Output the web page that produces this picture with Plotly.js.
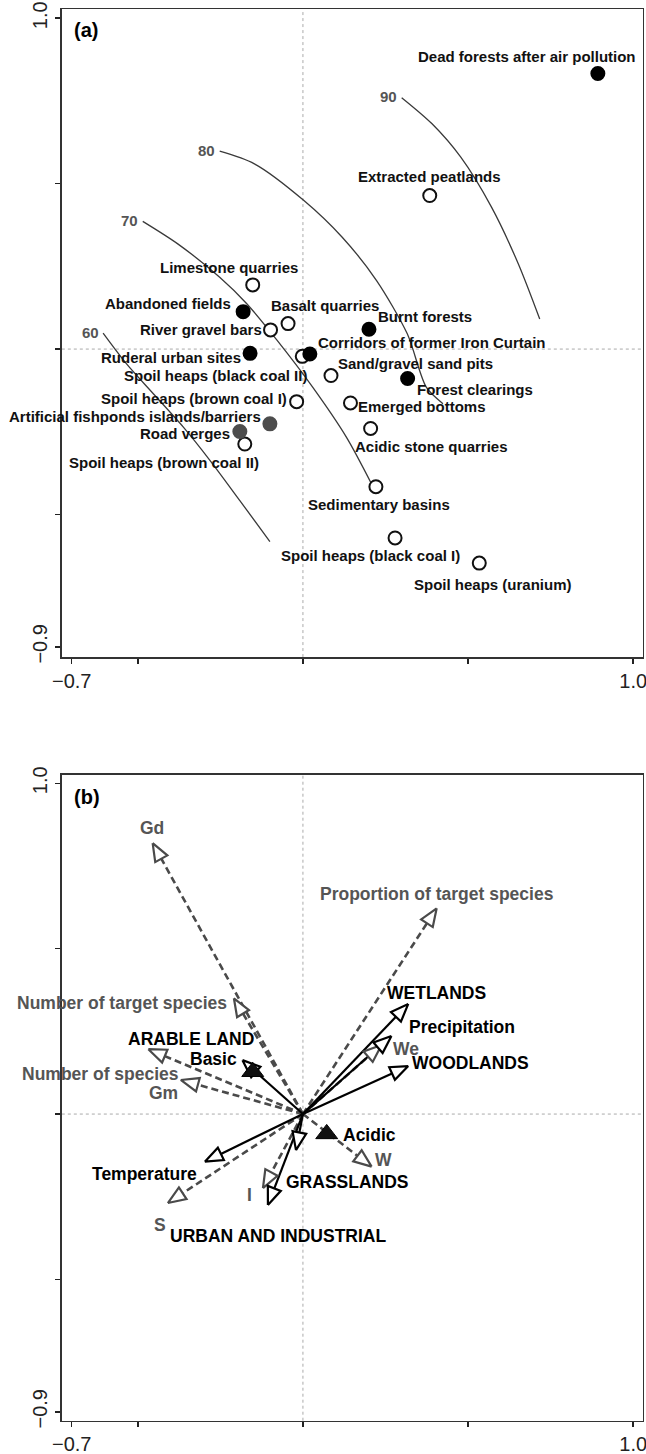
<!DOCTYPE html>
<html><head><meta charset="utf-8">
<script src="https://cdn.plot.ly/plotly-3.0.1.min.js"></script>
<style>html,body{margin:0;padding:0;background:#fff}</style>
</head><body><div id="chart" style="width:646px;height:1454px"></div>
<script>
// ---------- Panel (a): sites ----------
const siteNames = ['Dead forests after air pollution','Extracted peatlands','Limestone quarries','Abandoned fields',
 'Basalt quarries','River gravel bars','Ruderal urban sites','Spoil heaps (black coal II)','Corridors of former Iron Curtain',
 'Burnt forests','Sand/gravel sand pits','Forest clearings','Spoil heaps (brown coal I)','Emerged bottoms',
 'Acidic stone quarries','Artificial fishponds islands/barriers','Road verges','Spoil heaps (brown coal II)',
 'Sedimentary basins','Spoil heaps (black coal I)','Spoil heaps (uranium)'];
const siteX = [0.893,0.384,-0.152,-0.181,-0.045,-0.098,-0.160,-0.002,0.021,0.200,0.085,0.317,-0.019,0.144,0.205,-0.100,-0.191,-0.176,0.221,0.279,0.534];
const siteY = [0.833,0.464,0.194,0.113,0.077,0.058,-0.013,-0.022,-0.015,0.060,-0.080,-0.089,-0.159,-0.163,-0.240,-0.226,-0.249,-0.287,-0.416,-0.571,-0.647];
const siteType = ['filled','open','open','filled','open','open','filled','open','filled','filled','open','filled','open','open','open','grey','grey','open','open','open','open'];

// isolines (contour values and points)
const isoLevels = ['60','70','80','90'];
const iso60X = [-0.605,-0.534,-0.453,-0.362,-0.281,-0.191,-0.100];
const iso60Y = [0.048,-0.045,-0.135,-0.236,-0.337,-0.458,-0.582];
const iso70X = [-0.485,-0.379,-0.252,-0.170,-0.078,0.030,0.132,0.209];
const iso70Y = [0.386,0.318,0.217,0.137,0.026,-0.116,-0.267,-0.410];
const iso80X = [-0.252,-0.147,0.003,0.119,0.223,0.316,0.374,0.424];
const iso80Y = [0.598,0.560,0.449,0.338,0.207,0.046,-0.116,-0.165];
const iso90X = [0.299,0.391,0.478,0.571,0.652,0.717];
const iso90Y = [0.760,0.681,0.580,0.429,0.258,0.091];

// ---------- Panel (b): variables ----------
const speciesNames = ['Gd','Proportion of target species','Number of target species','Number of species','Gm','S','I','W','We'];
const speciesX = [-0.455,0.405,-0.209,-0.468,-0.370,-0.409,-0.121,0.208,0.238];
const speciesY = [0.819,0.622,0.350,0.196,0.103,-0.269,-0.224,-0.159,0.209];
const envNames = ['WETLANDS','Precipitation','WOODLANDS','ARABLE LAND','Temperature','URBAN AND INDUSTRIAL','GRASSLANDS'];
const envX = [0.319,0.268,0.319,-0.183,-0.297,-0.106,-0.021];
const envY = [0.333,0.236,0.145,0.163,-0.144,-0.275,-0.109];
const centroidNames = ['Basic','Acidic'];
const centroidX = [-0.152,0.072];
const centroidY = [0.128,-0.060];

const xTickVals = [-0.7,-0.5,0,0.5,1.0];
const xTickText = ['\u22120.7','','','','1.0'];
const yTickVals = [1.0,0.5,0,-0.5,-0.9];
const yTickText = ['1.0','','','','\u22120.9'];

// ---------- label offsets (pixels: right, down) ----------
const siteLabelDx = [-71,0,-24,-75,37,-70,-79,-87,122,56,85,67,-103,72,61,-135,-55,-81,3,-25,14];
const siteLabelDy = [-17,-19,-17,-8,-18,0,4,19,-12,-13,-12,11,-3,4,18,-7,2,18,18,18,21];
const speciesLabelDx = [-1,0,-112,-48,-17,-8,-13,12,24];
const speciesLabelDy = [-15,-14,5,25,13,22,7,-7,4];
const envLabelDx = [28,71,62,-51,-60,10,52];
const envLabelDy = [-11,-9,-3,-21,12,31,32];
const centroidLabelDx = [-39,43];
const centroidLabelDy = [-13,1];

const FONT = 'Arial, "Liberation Sans", sans-serif';
const GREY = '#4a4a4a';
const traces = [];
const annotations = [];

// isolines
const isoX = [iso60X, iso70X, iso80X, iso90X];
const isoY = [iso60Y, iso70Y, iso80Y, iso90Y];
isoLevels.forEach((lv, i) => {
  traces.push({type:'scatter', mode:'lines', x: isoX[i], y: isoY[i], xaxis:'x', yaxis:'y',
    line:{color:'#3a3a3a', width:1.3, shape:'spline', smoothing:0.8}, hoverinfo:'skip', showlegend:false});
  annotations.push({xref:'x', yref:'y', x: isoX[i][0], y: isoY[i][0], text: lv, showarrow:false,
    xshift:-13, yshift:1, font:{family:FONT, size:15, color:'#555', weight:'bold'}});
});

// sites
const styleFor = {open:{color:'#ffffff', line:'#111'}, filled:{color:'#000', line:'#000'}, grey:{color:'#4d4d4d', line:'#4d4d4d'}};
['open','filled','grey'].forEach(t => {
  const idx = siteType.map((v,i)=>v===t?i:-1).filter(i=>i>=0);
  traces.push({type:'scatter', mode:'markers', x: idx.map(i=>siteX[i]), y: idx.map(i=>siteY[i]), xaxis:'x', yaxis:'y',
    marker:{symbol:'circle', size:13, color: styleFor[t].color, line:{color: styleFor[t].line, width:2}},
    hoverinfo:'skip', showlegend:false});
});
siteNames.forEach((n,i) => {
  annotations.push({xref:'x', yref:'y', x: siteX[i], y: siteY[i], text: n, showarrow:false,
    xanchor:'center', yanchor:'middle',
    xshift: siteLabelDx[i], yshift: -siteLabelDy[i], font:{family:FONT, size:15, color:'#111', weight:'bold'}});
});

// arrows
function addArrows(xs, ys, color, dash, width) {
  const L = 0.054, W = 0.021;
  const heads = [];
  xs.forEach((x,i) => {
    const y = ys[i];
    const len = Math.hypot(x,y);
    const ux = x/len, uy = y/len;
    const bx = x - L*ux, by = y - L*uy;
    traces.push({type:'scatter', mode:'lines', x:[0,bx], y:[0,by], xaxis:'x2', yaxis:'y2',
      line:{color:color, width:width, dash:dash}, hoverinfo:'skip', showlegend:false});
    heads.push([x, bx - W*uy, bx + W*uy, x], [y, by + W*ux, by - W*ux, y]);
  });
  return heads;
}
const sHeads = addArrows(speciesX, speciesY, GREY, '7px,4px', 2.6);
const eHeads = addArrows(envX, envY, '#000', 'solid', 2.2);
function pushHeads(h, color) {
  for (let k=0;k<h.length;k+=2) {
    traces.push({type:'scatter', mode:'lines', x:h[k], y:h[k+1], xaxis:'x2', yaxis:'y2', fill:'toself',
      fillcolor:'#fff', line:{color:color, width:2.2}, hoverinfo:'skip', showlegend:false});
  }
}
pushHeads(sHeads, GREY);
pushHeads(eHeads, '#000');
traces.push({type:'scatter', mode:'markers', x: centroidX, y: centroidY, xaxis:'x2', yaxis:'y2',
  marker:{symbol:'triangle-up', size:19, color:'#111', line:{color:'#000', width:1}}, hoverinfo:'skip', showlegend:false});

const bFont = 17.5;
speciesNames.forEach((n,i) => annotations.push({xref:'x2', yref:'y2', x: speciesX[i], y: speciesY[i], text:n, showarrow:false,
  xanchor:'center', yanchor:'middle',
  xshift: speciesLabelDx[i], yshift: -speciesLabelDy[i], font:{family:FONT, size:bFont, color:'#555', weight:'bold'}}));
envNames.forEach((n,i) => annotations.push({xref:'x2', yref:'y2', x: envX[i], y: envY[i], text:n, showarrow:false,
  xanchor:'center', yanchor:'middle',
  xshift: envLabelDx[i], yshift: -envLabelDy[i], font:{family:FONT, size:bFont, color:'#000', weight:'bold'}}));
centroidNames.forEach((n,i) => annotations.push({xref:'x2', yref:'y2', x: centroidX[i], y: centroidY[i], text:n, showarrow:false,
  xanchor:'center', yanchor:'middle',
  xshift: centroidLabelDx[i], yshift: -centroidLabelDy[i], font:{family:FONT, size:bFont, color:'#000', weight:'bold'}}));

annotations.push({xref:'x domain', yref:'y domain', x:0.042, y:0.968, xanchor:'center', yanchor:'middle', text:'(a)', showarrow:false, font:{family:FONT, size:20, color:'#000', weight:'bold'}});
annotations.push({xref:'x2 domain', yref:'y2 domain', x:0.043, y:0.966, xanchor:'center', yanchor:'middle', text:'(b)', showarrow:false, font:{family:FONT, size:20, color:'#000', weight:'bold'}});

function xAxis(anchor, range) {
  return {domain:[0.0957,0.995], range:range, anchor:anchor, tickvals:xTickVals, ticktext:xTickText,
    ticks:'outside', ticklen:5, tickwidth:1.5, tickcolor:'#222', showline:true, mirror:true, linecolor:'#333', linewidth:1.6,
    showgrid:false, zeroline:false, tickfont:{family:FONT, size:20, color:'#222'}, ticklabeloverflow:'allow', fixedrange:true};
}
function yAxis(anchor, domain, range) {
  return {domain:domain, range:range, anchor:anchor, tickvals:yTickVals, ticktext:yTickText, tickangle:-90,
    ticks:'outside', ticklen:5, tickwidth:1.5, tickcolor:'#222', showline:true, mirror:true, linecolor:'#333', linewidth:1.6,
    showgrid:false, zeroline:false, tickfont:{family:FONT, size:20, color:'#222'}, ticklabeloverflow:'allow', fixedrange:true};
}
const zl = {color:'#aaa', width:1, dash:'dot'};
const shapes = [
  {type:'line', xref:'x', yref:'y domain', x0:0, x1:0, y0:0, y1:1, line:zl, layer:'below'},
  {type:'line', xref:'x domain', yref:'y', x0:0, x1:1, y0:0, y1:0, line:zl, layer:'below'},
  {type:'line', xref:'x2', yref:'y2 domain', x0:0, x1:0, y0:0, y1:1, line:zl, layer:'below'},
  {type:'line', xref:'x2 domain', yref:'y2', x0:0, x1:1, y0:0, y1:0, line:zl, layer:'below'}
];

const layout = {
  width:646, height:1454, margin:{l:0,r:0,t:0,b:0}, paper_bgcolor:'#fff', plot_bgcolor:'#fff', showlegend:false,
  xaxis: xAxis('y', [-0.73,1.029]),
  yaxis: yAxis('x', [0.5481,0.9936], [-0.931,1.027]),
  xaxis2: xAxis('y2', [-0.73,1.029]),
  yaxis2: yAxis('x2', [0.0229,0.467], [-0.927,1.025]),
  shapes: shapes, annotations: annotations
};
Plotly.newPlot('chart', traces, layout, {displayModeBar:false, staticPlot:true});
</script></body></html>
